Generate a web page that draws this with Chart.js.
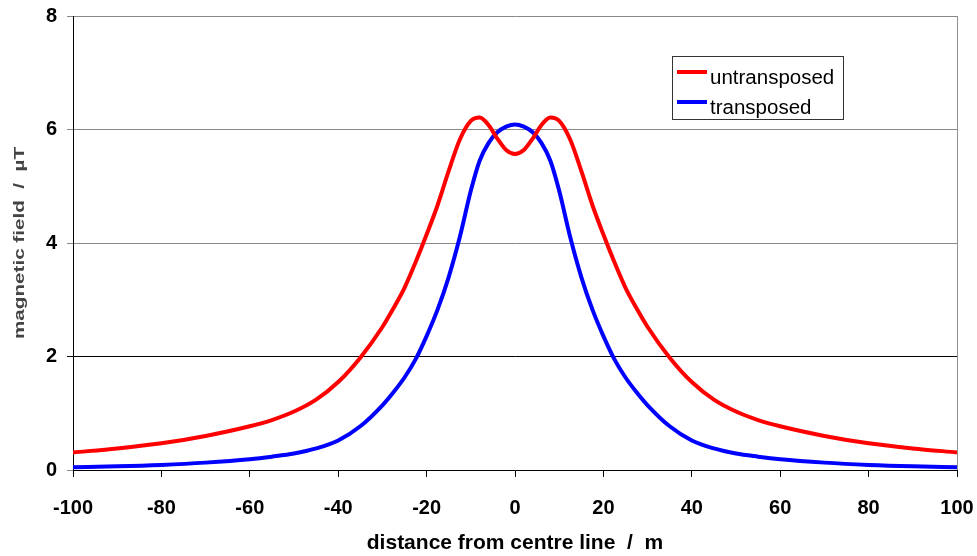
<!DOCTYPE html>
<html>
<head>
<meta charset="utf-8">
<script src="https://cdn.jsdelivr.net/npm/chart.js@4/dist/chart.umd.min.js"></script>
<style>
body { margin: 0; background: #fff; }
</style>
</head>
<body>
<canvas id="mycanvas" width="977" height="556"></canvas>
<script>
// distance from centre line (m)
var distance = [-100, -90, -80, -70, -60, -55, -50, -45, -40, -35, -30, -27.5, -25, -22.5, -20, -17.5, -15, -12.5, -10, -8, -6, -4, -2,
	0, 2, 4, 6, 8, 10, 12.5, 15, 17.5, 20, 22.5, 25, 27.5, 30, 35, 40, 45, 50, 55, 60, 70, 80, 90, 100];
// magnetic field (uT)
var untransposed = [0.31, 0.38, 0.47, 0.60, 0.77, 0.88, 1.03, 1.24, 1.55, 1.98, 2.52, 2.85, 3.21, 3.66, 4.15, 4.67, 5.27, 5.82, 6.15, 6.21, 6.08, 5.84, 5.64,
	5.57, 5.64, 5.84, 6.08, 6.21, 6.15, 5.82, 5.27, 4.67, 4.15, 3.66, 3.21, 2.85, 2.52, 1.98, 1.55, 1.24, 1.03, 0.88, 0.77, 0.60, 0.47, 0.38, 0.31];
var transposed = [0.05, 0.065, 0.09, 0.13, 0.19, 0.235, 0.29, 0.38, 0.52, 0.77, 1.14, 1.37, 1.63, 1.95, 2.36, 2.83, 3.40, 4.10, 4.92, 5.45, 5.76, 5.95, 6.05,
	6.09, 6.05, 5.95, 5.76, 5.45, 4.92, 4.10, 3.40, 2.83, 2.36, 1.95, 1.63, 1.37, 1.14, 0.77, 0.52, 0.38, 0.29, 0.235, 0.19, 0.13, 0.09, 0.065, 0.05];
var yTicks = [0, 2, 4, 6, 8];
var xTicks = [-100, -80, -60, -40, -20, 0, 20, 40, 60, 80, 100];
var yTitle = 'magnetic field  /  µT';

var font = "'Liberation Sans', Arial, sans-serif";

function toPoints(ys) {
	var pts = [];
	for (var i in distance) {
		pts.push({ x: distance[i], y: ys[i] });
	}
	return pts;
}

// legend box, right border and the squashed y title, drawn by hand
var boxPlugin = {
	id: 'boxPlugin',
	afterDraw: function(chart) {
		var c = chart.ctx;
		var a = chart.chartArea;
		c.save();
		c.strokeStyle = '#909090';
		c.lineWidth = 1;
		c.beginPath();
		c.moveTo(a.right + 0.5, a.top);
		c.lineTo(a.right + 0.5, a.bottom);
		c.stroke();

		c.fillStyle = '#fff';
		c.fillRect(672, 56, 172, 64);
		c.strokeStyle = '#333';
		c.strokeRect(672.5, 56.5, 171, 63);
		var rows = [72, 102];
		chart.data.datasets.forEach(function(ds, i) {
			c.strokeStyle = ds.borderColor;
			c.lineWidth = 4;
			c.beginPath();
			c.moveTo(677, rows[i]);
			c.lineTo(707, rows[i]);
			c.stroke();
			c.fillStyle = '#000';
			c.font = '20.5px ' + font;
			c.textBaseline = 'alphabetic';
			c.fillText(ds.label, 710, rows[i] + 12);
		});

		// y title, stretched along its length like the original
		c.font = 'bold 14px ' + font;
		var w = c.measureText(yTitle).width;
		c.translate(20, (a.top + a.bottom) / 2);
		c.rotate(-Math.PI / 2);
		c.scale(192 / w, 1);
		c.fillStyle = '#444';
		c.textAlign = 'center';
		c.textBaseline = 'middle';
		c.fillText(yTitle, 0, 0);
		c.restore();
	}
};

var ctx = document.getElementById('mycanvas');
var chart = new Chart(ctx, {
	type: 'line',
	data: {
		datasets: [
			{
				label: 'untransposed',
				data: toPoints(untransposed),
				borderColor: '#ff0000',
				borderWidth: 4,
				pointRadius: 0,
				fill: false,
				cubicInterpolationMode: 'monotone'
			},
			{
				label: 'transposed',
				data: toPoints(transposed),
				borderColor: '#0000ff',
				borderWidth: 4,
				pointRadius: 0,
				fill: false,
				cubicInterpolationMode: 'monotone'
			}
		]
	},
	options: {
		responsive: false,
		animation: false,
		layout: { padding: { top: 16, right: 20, left: 0, bottom: 0 } },
		plugins: {
			legend: { display: false },
			tooltip: { enabled: false }
		},
		scales: {
			x: {
				type: 'linear',
				min: -100,
				max: 100,
				afterBuildTicks: function(scale) {
					scale.ticks = xTicks.map(function(v) { return { value: v }; });
				},
				afterFit: function(scale) {
					scale.height = 86;
					scale.paddingLeft = 0;
					scale.paddingRight = 0;
				},
				grid: { drawOnChartArea: false, color: '#000', tickLength: 7 },
				border: { color: '#000', width: 1 },
				ticks: {
					color: '#000',
					font: { family: font, size: 20, weight: 'bold' },
					padding: 19,
					maxRotation: 0
				},
				title: {
					display: true,
					text: 'distance from centre line  /  m',
					color: '#000',
					font: { family: font, size: 21, weight: 'bold' },
					padding: { top: 0, bottom: 0 }
				}
			},
			y: {
				min: 0,
				max: 8,
				afterBuildTicks: function(scale) {
					scale.ticks = yTicks.map(function(v) { return { value: v }; });
				},
				afterFit: function(scale) {
					scale.width = 73;
					scale.paddingTop = 0;
					scale.paddingBottom = 0;
				},
				grid: {
					color: function(c) { return c.tick && c.tick.value === 2 ? '#000' : '#888'; },
					tickLength: 6,
					lineWidth: 1
				},
				border: { color: '#000', width: 1 },
				ticks: {
					color: '#000',
					font: { family: font, size: 20, weight: 'bold' },
					padding: 10
				}
			}
		}
	},
	plugins: [boxPlugin]
});
</script>
</body>
</html>
